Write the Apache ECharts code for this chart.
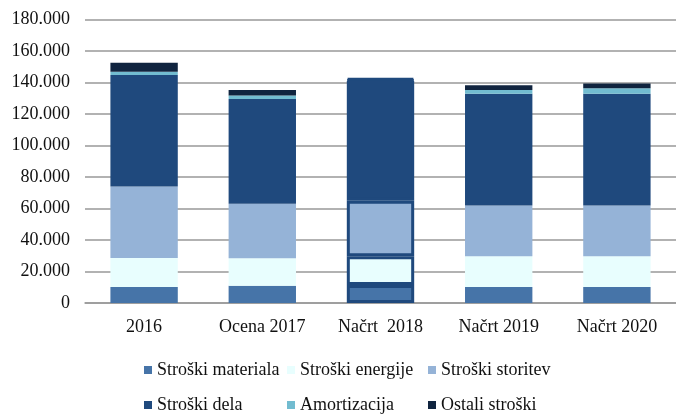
<!DOCTYPE html>
<html>
<head>
<meta charset="utf-8">
<script src="https://cdn.jsdelivr.net/npm/echarts@6/dist/echarts.min.js"></script>
<style>
    html, body { margin: 0; padding: 0; background: #fff; }
    #chart { width: 676px; height: 414px; }
</style>
</head>
<body>
<div id="chart"></div>
<script>
// kategorije in podatki (v tisočih EUR, odčitano s slike)
var categories = ['2016', 'Ocena 2017', 'Načrt  2018', 'Načrt 2019', 'Načrt 2020'];
var seriesNames = ['Stroški materiala', 'Stroški energije', 'Stroški storitev', 'Stroški dela', 'Amortizacija', 'Ostali stroški'];
var materiala = [10100, 10900, 11400, 10100, 10100];
var energija = [18500, 17500, 18300, 19600, 19600];
var storitve = [45300, 34600, 35300, 32200, 32200];
var dela = [70800, 66500, 76000, 70900, 70900];
var amortizacija = [2100, 2300, 500, 2400, 3500];
var ostali = [5700, 3400, 1000, 3100, 3100];
var yTicks = [0, 20000, 40000, 60000, 80000, 100000, 120000, 140000, 160000, 180000];

var colors = ['#4674A8', '#E8FEFE', '#95B3D7', '#1F497D', '#72BCD0', '#10243F'];
var values = [materiala, energija, storitve, dela, amortizacija, ostali];
var font = 'Liberation Serif';

// označen stolpec (Načrt 2018) ima temno obrobo
var highlighted = 2;

var chart = echarts.init(document.getElementById('chart'));

var series = seriesNames.map(function (name, i) {
    return {
        name: name,
        type: 'bar',
        stack: 'skupaj',
        barWidth: '57%',
        itemStyle: { color: colors[i] },
        data: values[i].map(function (v, j) {
            if (j === highlighted) {
                return { value: v, itemStyle: { borderColor: '#1F497D', borderWidth: 3 } };
            }
            return v;
        })
    };
});

// legenda v dveh vrsticah s poravnanimi stolpci
var legendLeft = [144, 287, 428];
var legendTop = [361, 396];
var legends = seriesNames.map(function (name, i) {
    return {
        data: [name],
        left: legendLeft[i % 3],
        top: legendTop[Math.floor(i / 3)],
        itemWidth: 8,
        itemHeight: 8,
        itemGap: 0,
        padding: 0,
        icon: 'rect',
        selectedMode: false,
        textStyle: { fontFamily: font, fontSize: 18, color: '#111' }
    };
});

var option = {
    animation: false,
    color: colors,
    grid: { left: 85, top: 19.5, width: 597, height: 283.5, containLabel: false },
    legend: legends,
    xAxis: {
        type: 'category',
        data: categories,
        axisTick: { show: false },
        axisLine: { lineStyle: { color: '#999', width: 1.5 } },
        axisLabel: { fontFamily: font, fontSize: 18, color: '#111', margin: 15 }
    },
    yAxis: {
        type: 'value',
        min: yTicks[0],
        max: yTicks[yTicks.length - 1],
        interval: 20000,
        axisLine: { show: false },
        axisTick: { show: false },
        splitLine: { lineStyle: { color: '#999', width: 1.5 } },
        axisLabel: {
            fontFamily: font,
            fontSize: 18,
            color: '#111',
            margin: 15,
            formatter: function (v) {
                if (v === 0) return '0';
                return (v / 1000).toFixed(0) + '.000';
            }
        }
    },
    series: series
};

chart.setOption(option);
</script>
</body>
</html>
